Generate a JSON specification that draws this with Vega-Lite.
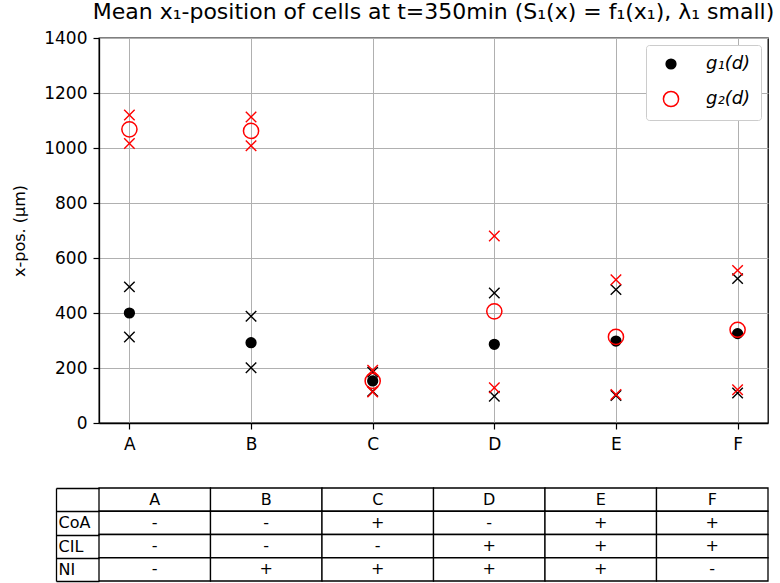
{
  "$schema": "https://vega.github.io/schema/vega-lite/v6.json",
  "padding": {"left": 11, "top": 0, "right": 5, "bottom": 3},
  "spacing": 27,
  "config": {
    "font": "DejaVu Sans",
    "axis": {"labelColor": "black", "tickColor": "black", "domainColor": "black", "titleColor": "black", "labelFontSize": 17, "titleFontSize": 16, "titleFontWeight": "normal", "gridColor": "#b0b0b0", "gridWidth": 1, "gridOpacity": 1, "tickSize": 6, "tickWidth": 1.2, "domainWidth": 1.3},
    "title": {"font": "DejaVu Sans", "fontSize": 22, "fontWeight": "normal", "color": "black"}
  },
  "datasets": {
    "pts": [
      {"cond": "A", "series": "g₁(d)", "stat": "mean", "value": 400},
      {"cond": "A", "series": "g₁(d)", "stat": "lo", "value": 313},
      {"cond": "A", "series": "g₁(d)", "stat": "hi", "value": 495},
      {"cond": "B", "series": "g₁(d)", "stat": "mean", "value": 292},
      {"cond": "B", "series": "g₁(d)", "stat": "lo", "value": 201},
      {"cond": "B", "series": "g₁(d)", "stat": "hi", "value": 388},
      {"cond": "C", "series": "g₁(d)", "stat": "mean", "value": 153},
      {"cond": "C", "series": "g₁(d)", "stat": "lo", "value": 115},
      {"cond": "C", "series": "g₁(d)", "stat": "hi", "value": 185},
      {"cond": "D", "series": "g₁(d)", "stat": "mean", "value": 286},
      {"cond": "D", "series": "g₁(d)", "stat": "lo", "value": 97},
      {"cond": "D", "series": "g₁(d)", "stat": "hi", "value": 473},
      {"cond": "E", "series": "g₁(d)", "stat": "mean", "value": 298},
      {"cond": "E", "series": "g₁(d)", "stat": "lo", "value": 100},
      {"cond": "E", "series": "g₁(d)", "stat": "hi", "value": 485},
      {"cond": "F", "series": "g₁(d)", "stat": "mean", "value": 325},
      {"cond": "F", "series": "g₁(d)", "stat": "lo", "value": 109},
      {"cond": "F", "series": "g₁(d)", "stat": "hi", "value": 525},
      {"cond": "A", "series": "g₂(d)", "stat": "mean", "value": 1068},
      {"cond": "A", "series": "g₂(d)", "stat": "lo", "value": 1016},
      {"cond": "A", "series": "g₂(d)", "stat": "hi", "value": 1120},
      {"cond": "B", "series": "g₂(d)", "stat": "mean", "value": 1062},
      {"cond": "B", "series": "g₂(d)", "stat": "lo", "value": 1008},
      {"cond": "B", "series": "g₂(d)", "stat": "hi", "value": 1113},
      {"cond": "C", "series": "g₂(d)", "stat": "mean", "value": 153},
      {"cond": "C", "series": "g₂(d)", "stat": "lo", "value": 113},
      {"cond": "C", "series": "g₂(d)", "stat": "hi", "value": 192},
      {"cond": "D", "series": "g₂(d)", "stat": "mean", "value": 406},
      {"cond": "D", "series": "g₂(d)", "stat": "lo", "value": 128},
      {"cond": "D", "series": "g₂(d)", "stat": "hi", "value": 680},
      {"cond": "E", "series": "g₂(d)", "stat": "mean", "value": 313},
      {"cond": "E", "series": "g₂(d)", "stat": "lo", "value": 104},
      {"cond": "E", "series": "g₂(d)", "stat": "hi", "value": 521},
      {"cond": "F", "series": "g₂(d)", "stat": "mean", "value": 339},
      {"cond": "F", "series": "g₂(d)", "stat": "lo", "value": 121},
      {"cond": "F", "series": "g₂(d)", "stat": "hi", "value": 555}
    ],
    "tbl": [
      {"row": "hdr", "col": "A", "txt": "A"},
      {"row": "hdr", "col": "B", "txt": "B"},
      {"row": "hdr", "col": "C", "txt": "C"},
      {"row": "hdr", "col": "D", "txt": "D"},
      {"row": "hdr", "col": "E", "txt": "E"},
      {"row": "hdr", "col": "F", "txt": "F"},
      {"row": "CoA", "col": "A", "txt": "-"},
      {"row": "CoA", "col": "B", "txt": "-"},
      {"row": "CoA", "col": "C", "txt": "+"},
      {"row": "CoA", "col": "D", "txt": "-"},
      {"row": "CoA", "col": "E", "txt": "+"},
      {"row": "CoA", "col": "F", "txt": "+"},
      {"row": "CIL", "col": "A", "txt": "-"},
      {"row": "CIL", "col": "B", "txt": "-"},
      {"row": "CIL", "col": "C", "txt": "-"},
      {"row": "CIL", "col": "D", "txt": "+"},
      {"row": "CIL", "col": "E", "txt": "+"},
      {"row": "CIL", "col": "F", "txt": "+"},
      {"row": "NI", "col": "A", "txt": "-"},
      {"row": "NI", "col": "B", "txt": "+"},
      {"row": "NI", "col": "C", "txt": "+"},
      {"row": "NI", "col": "D", "txt": "+"},
      {"row": "NI", "col": "E", "txt": "+"},
      {"row": "NI", "col": "F", "txt": "-"}
    ]
  },
  "vconcat": [
    {
      "title": {"text": "Mean x₁-position of cells at t=350min (S₁(x) = f₁(x₁), λ₁ small)", "anchor": "middle", "offset": 5},
      "width": 669,
      "height": 385,
      "data": {"name": "pts"},
      "view": {"stroke": "black", "strokeWidth": 1.3},
      "encoding": {
        "x": {"field": "cond", "type": "nominal", "scale": {"type": "point", "padding": 0.25, "domain": ["A", "B", "C", "D", "E", "F"]}, "axis": {"title": null, "labelAngle": 0, "grid": true, "labelPadding": 7}},
        "y": {"field": "value", "type": "quantitative", "scale": {"domain": [0, 1400], "nice": false}, "axis": {"title": "x-pos. (µm)", "format": "d", "values": [0, 200, 400, 600, 800, 1000, 1200, 1400], "grid": true, "labelPadding": 6, "titlePadding": 16}}
      },
      "layer": [
        {
          "transform": [{"filter": "datum.stat != 'mean' && datum.series == 'g₁(d)'"}],
          "mark": {"type": "point", "shape": "M-1,-1L1,1M-1,1L1,-1", "size": 110, "filled": false, "stroke": "black", "strokeWidth": 1.4, "opacity": 1}
        },
        {
          "transform": [{"filter": "datum.stat != 'mean' && datum.series == 'g₂(d)'"}],
          "mark": {"type": "point", "shape": "M-1,-1L1,1M-1,1L1,-1", "size": 110, "filled": false, "stroke": "red", "strokeWidth": 1.4, "opacity": 1}
        },
        {
          "transform": [{"filter": "datum.stat == 'mean'"}],
          "mark": {"type": "point", "shape": "circle", "filled": true, "strokeWidth": 1.5, "opacity": 1},
          "encoding": {
            "stroke": {"field": "series", "type": "nominal", "scale": {"domain": ["g₁(d)", "g₂(d)"], "range": ["black", "red"]}, "legend": {"title": null, "orient": "top-right", "offset": 7, "strokeColor": "#cccccc", "fillColor": "white", "padding": 10, "cornerRadius": 3, "labelFontSize": 18, "labelFontStyle": "italic", "labelColor": "black", "rowPadding": 15, "symbolStrokeWidth": 1.5, "symbolOffset": 6, "labelOffset": 26}},
            "fill": {"field": "series", "type": "nominal", "scale": {"domain": ["g₁(d)", "g₂(d)"], "range": ["black", "transparent"]}},
            "size": {"field": "series", "type": "nominal", "scale": {"domain": ["g₁(d)", "g₂(d)"], "range": [95, 230]}}
          }
        }
      ]
    },
    {
      "width": 669,
      "height": 93,
      "data": {"name": "tbl"},
      "view": {"stroke": null},
      "encoding": {
        "x": {"field": "col", "type": "nominal", "scale": {"type": "band", "domain": ["A", "B", "C", "D", "E", "F"], "paddingInner": 0, "paddingOuter": 0}, "axis": null},
        "y": {"field": "row", "type": "nominal", "scale": {"type": "band", "domain": ["hdr", "CoA", "CIL", "NI"], "paddingInner": 0, "paddingOuter": 0}, "axis": {"title": null, "labelExpr": "datum.value == 'hdr' ? '' : datum.value", "offset": 43, "tickSize": -43, "tickBand": "extent", "labelAlign": "left", "labelPadding": 41, "labelFontSize": 16, "grid": false, "tickWidth": 1.3, "domainWidth": 1.3}}
      },
      "layer": [
        {"mark": {"type": "rect", "fill": "white", "stroke": "black", "strokeWidth": 1.3}},
        {"mark": {"type": "text", "fontSize": 16, "baseline": "middle", "align": "center", "color": "black"}, "encoding": {"text": {"field": "txt", "type": "nominal"}}}
      ]
    }
  ]
}
